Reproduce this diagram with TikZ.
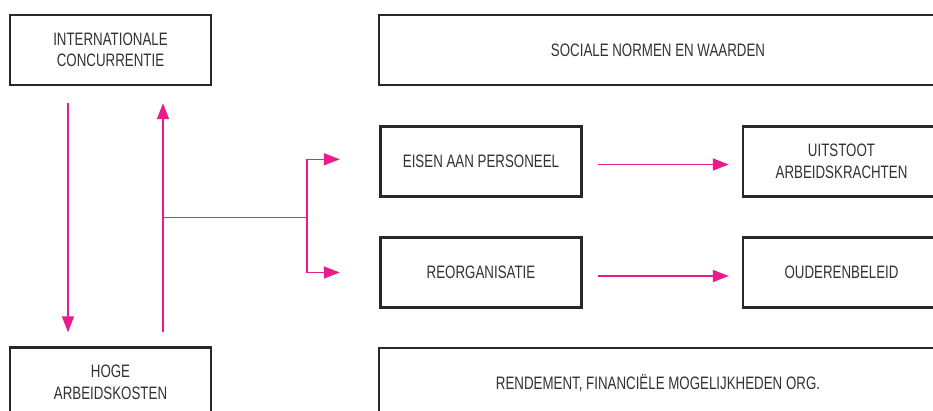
\documentclass[tikz,border=0pt]{standalone}
\usepackage{fontspec}
\setmainfont[FakeStretch=0.74]{Liberation Sans}
\usetikzlibrary{arrows.meta}
\definecolor{mag}{RGB}{232,28,140}
\definecolor{boxc}{RGB}{40,40,40}
\definecolor{txt}{RGB}{50,50,50}
\begin{document}
\begin{tikzpicture}[x=1pt,y=-1pt,
  box/.style={draw=boxc, line width=2.4pt, minimum width=#1, minimum height=70pt,
    inner sep=0pt, align=center, font=\fontsize{18}{21.5}\selectfont, text=txt},
  arr/.style={draw=mag, line width=1.5pt, -{Triangle[length=16pt,width=12pt]}},
  ln/.style={draw=mag, line width=1.5pt}]
\useasboundingbox (0,0) rectangle (933,410);
\clip (0,0) rectangle (933,410);
\fill[white] (0,0) rectangle (933,410);
% boxes
\node[box=201pt] (ic) at (110.5,50) {INTERNATIONALE\\CONCURRENTIE};
\node[box=201pt] (hk) at (110.5,382.5) {HOGE\\ARBEIDSKOSTEN};
\node[box=558pt] (sn) at (658,50) {SOCIALE NORMEN EN WAARDEN};
\node[box=201pt] (ep) at (481,161.5) {EISEN AAN PERSONEEL};
\node[box=201pt] (ro) at (481,272.5) {REORGANISATIE};
\node[box=197pt] (ua) at (841.5,161.5) {UITSTOOT\\ARBEIDSKRACHTEN};
\node[box=197pt] (ob) at (841.5,272.5) {OUDERENBELEID};
\node[box=558pt] (rf) at (658,383) {RENDEMENT, FINANCIËLE MOGELIJKHEDEN ORG.};
% helper coordinates
\coordinate (xl) at (68,0);
\coordinate (xr) at (163,0);
\coordinate (j) at (163,217.5);
\coordinate (b) at (307,217.5);
% connectors
\draw[arr, shorten <=17pt, shorten >=14pt] (ic.south -| xl) -- (hk.north -| xl);
\draw[arr, shorten <=14pt, shorten >=17pt] (hk.north -| xr) -- (ic.south -| xr);
\draw[ln] (j) -- (b);
\draw[arr, shorten >=39.5pt] (b) |- ([yshift=2.2pt]ep.west);
\draw[arr, shorten >=39.5pt] (b) |- (ro.west);
\draw[arr, shorten <=15.5pt, shorten >=13pt] ([yshift=-3pt]ep.east) -- ([yshift=-3pt]ep.east -| ua.west);
\draw[arr, shorten <=15.5pt, shorten >=13pt] ([yshift=-3.5pt]ro.east) -- ([yshift=-3.5pt]ro.east -| ob.west);
\end{tikzpicture}
\end{document}
